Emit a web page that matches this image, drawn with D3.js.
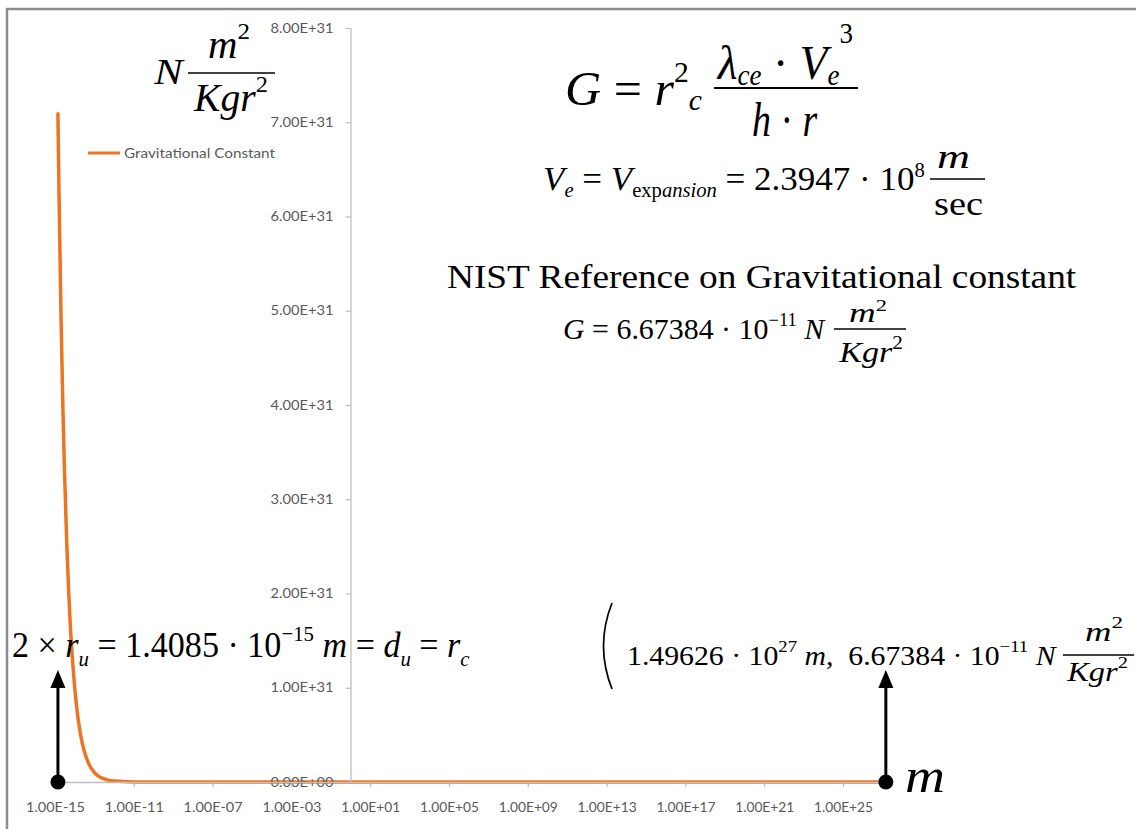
<!DOCTYPE html>
<html>
<head>
<meta charset="utf-8">
<script src="https://cdn.jsdelivr.net/npm/d3@7"></script>
<style>
  html, body { margin: 0; padding: 0; background: #fff; }
  svg { display: block; }
</style>
</head>
<body>
<script>
// ---------- data ----------
const seriesName = "Gravitational Constant";
// radius r in metres (x, log scale)
const radii = [1.4085e-15, 1.6e-15, 2e-15, 2.5e-15, 3e-15, 4e-15, 5e-15, 6e-15, 8e-15,
  1e-14, 1.5e-14, 2e-14, 3e-14, 5e-14, 1e-13, 2e-13, 5e-13, 1e-12, 1e-11, 1e-10, 1e-9,
  1e-6, 1e-3, 1, 1e3, 1e6, 1e9, 1e12, 1e15, 1e18, 1e21, 1e24, 1.49626e27];
// gravitational "constant" G (y)
const gValues = [7.09e31, 6.24e31, 4.99e31, 3.99e31, 3.33e31, 2.50e31, 2.00e31, 1.66e31, 1.25e31,
  9.99e30, 6.66e30, 4.99e30, 3.33e30, 2.00e30, 9.99e29, 4.99e29, 2.00e29, 9.99e28, 9.99e27, 9.99e26, 9.99e25,
  9.99e22, 9.99e19, 9.99e16, 9.99e13, 9.99e10, 9.99e7, 9.99e4, 99.9, 9.99e-2, 9.99e-5, 9.99e-8, 6.67384e-11];
const xTickValues = [1e-15, 1e-11, 1e-7, 1e-3, 1e1, 1e5, 1e9, 1e13, 1e17, 1e21, 1e25];
const xTickLabels = ["1.00E-15", "1.00E-11", "1.00E-07", "1.00E-03", "1.00E+01", "1.00E+05",
  "1.00E+09", "1.00E+13", "1.00E+17", "1.00E+21", "1.00E+25"];
const yTickValues = [0, 1e31, 2e31, 3e31, 4e31, 5e31, 6e31, 7e31, 8e31];
const yTickLabels = ["0.00E+00", "1.00E+31", "2.00E+31", "3.00E+31", "4.00E+31",
  "5.00E+31", "6.00E+31", "7.00E+31", "8.00E+31"];

// ---------- layout ----------
const W = 1136, H = 829;
const ORANGE = "#EC7422";
const AXIS = "#bfbfbf";
const LABEL = "#595959";
const SANS = "Lato, 'Open Sans', sans-serif";
const SERIF = "'Liberation Serif', 'Times New Roman', serif";

const svg = d3.select("body").append("svg").attr("width", W).attr("height", H);
svg.append("rect").attr("width", W).attr("height", H).attr("fill", "#fff");
// chart frame
svg.append("rect").attr("x", 7).attr("y", 9).attr("width", W + 20).attr("height", H + 20)
  .attr("fill", "none").attr("stroke", "#8c8c8c").attr("stroke-width", 2.5);

const x = d3.scaleLog().domain([1e-15, 1e27]).range([55, 55 + 42 * 19.7]);
const y = d3.scaleLinear().domain([0, 8e31]).range([782, 28]);

// y axis (crosses x at 1)
const yAxisG = svg.append("g").attr("transform", `translate(${x(1)},0)`)
  .call(d3.axisLeft(y).tickValues(yTickValues).tickSize(5).tickSizeOuter(0).tickPadding(12)
    .tickFormat((d, i) => yTickLabels[i]));
yAxisG.select(".domain").attr("stroke", AXIS).attr("stroke-width", 1.3);
yAxisG.selectAll(".tick line").attr("stroke", AXIS).attr("stroke-width", 1.3);

// x axis (at y = 0)
const xAxisG = svg.append("g").attr("transform", `translate(0,${y(0)})`)
  .call(d3.axisBottom(x).tickValues(xTickValues).tickSize(5).tickSizeOuter(0)
    .tickFormat((d, i) => xTickLabels[i]));
xAxisG.select(".domain").attr("stroke", AXIS).attr("stroke-width", 1.3);
xAxisG.selectAll(".tick line").attr("stroke", AXIS).attr("stroke-width", 1.3);

// series line
const pts = radii.map((r, i) => [r, gValues[i]]);
svg.append("path").datum(pts)
  .attr("fill", "none").attr("stroke", ORANGE).attr("stroke-width", 3.5)
  .attr("stroke-linejoin", "round").attr("stroke-linecap", "round")
  .attr("d", d3.line().x(d => x(d[0])).y(d => y(d[1])).curve(d3.curveMonotoneX));

// tick labels drawn on top of the series
function styleLabels(sel, len) {
  sel.attr("font-family", SANS).attr("font-size", 12.5).attr("fill", LABEL)
    .attr("textLength", len).attr("lengthAdjust", "spacingAndGlyphs");
}
yAxisG.raise();
styleLabels(yAxisG.selectAll(".tick text"), 63);
xAxisG.raise();
styleLabels(xAxisG.selectAll(".tick text").attr("y", 30).attr("dy", 0), 59);
yAxisG.attr("font-family", null); xAxisG.attr("font-family", null);

// legend
svg.append("line").attr("x1", 88).attr("x2", 120).attr("y1", 153).attr("y2", 153)
  .attr("stroke", ORANGE).attr("stroke-width", 3);
svg.append("text").attr("x", 124).attr("y", 157.5).text(seriesName)
  .attr("font-family", SANS).attr("font-size", 12.5).attr("fill", LABEL)
  .attr("textLength", 151).attr("lengthAdjust", "spacingAndGlyphs");

// ---------- math annotations ----------
function mathPiece(x0, x1, base, fs, segs) {
  const g = svg.append("g");
  const t = g.append("text").attr("font-family", SERIF).attr("font-size", fs)
    .attr("fill", "#000").style("white-space", "pre");
  let cur = 0;
  for (const s of segs) {
    const str = s[0], o = s[1] || {};
    const dy = o.dy || 0;
    const ts = t.append("tspan").text(str).attr("dy", dy - cur);
    cur = dy;
    if (o.i) ts.attr("font-style", "italic");
    if (o.fs) ts.attr("font-size", o.fs);
  }
  const bb = t.node().getBBox();
  const sx = (x1 - x0) / bb.width;
  g.attr("transform", `translate(${x0 - bb.x * sx},${base}) scale(${sx},1)`);
  return g;
}
function bar(x0, x1, yy, w) {
  svg.append("line").attr("x1", x0).attr("x2", x1).attr("y1", yy).attr("y2", yy)
    .attr("stroke", "#000").attr("stroke-width", w || 1.6);
}

// Unit of y axis (top-left)
mathPiece(153, 185, 84, 36, [["N", { i: 1 }]]);
mathPiece(208, 250, 58, 39, [["m", { i: 1 }], ["2", { fs: 24, dy: -19 }]]);
bar(188, 275, 73, 1.6);
mathPiece(193, 268, 111, 39, [["Kgr", { i: 1 }], ["2", { fs: 24, dy: -19 }]]);

// G = r^2_c * (lambda_ce * Ve^3)/(h*r)
mathPiece(565, 702, 105, 49, [["G", { i: 1 }], [" = "], ["r", { i: 1 }],
  ["2", { fs: 29, dy: -23 }], ["c", { i: 1, fs: 29, dy: 5 }]]);
mathPiece(716, 853, 79, 49, [["λ", { i: 1 }], ["ce", { i: 1, fs: 29, dy: 6 }], [" · "],
  ["V", { i: 1 }], ["e", { i: 1, fs: 29, dy: 6 }], ["3", { fs: 29, dy: -36 }]]);
bar(714, 858, 88, 2);
mathPiece(752, 818, 136, 49, [["h", { i: 1 }], [" · "], ["r", { i: 1 }]]);

// Ve = Vexpansion = 2.3947e8 m/sec
mathPiece(543, 925, 190, 34, [["V", { i: 1 }], ["e", { i: 1, fs: 20, dy: 7 }], [" = "],
  ["V", { i: 1 }], ["exp", { fs: 20, dy: 7 }], ["ansion", { i: 1, fs: 20, dy: 7 }],
  [" = 2.3947 · 10"], ["8", { fs: 20, dy: -13 }]]);
mathPiece(937, 970, 168, 34, [["m", { i: 1 }]]);
bar(930, 985, 179, 1.6);
mathPiece(934, 983, 215, 34, [["sec"]]);

// NIST reference
mathPiece(447, 1077, 288, 34, [["NIST Reference on Gravitational constant"]]);
mathPiece(563, 826, 339, 29, [["G", { i: 1 }], [" = 6.67384 · 10"], ["−11", { fs: 18, dy: -13 }],
  [" "], ["N", { i: 1, dy: 0 }]]);
mathPiece(849, 887, 322, 28, [["m", { i: 1 }], ["2", { fs: 17, dy: -11 }]]);
bar(834, 906, 329, 1.4);
mathPiece(838, 903, 362, 29, [["Kgr", { i: 1 }], ["2", { fs: 18, dy: -13 }]]);

// bottom-left annotation
mathPiece(12, 470, 657, 36, [["2 × "], ["r", { i: 1 }], ["u", { i: 1, fs: 22, dy: 9 }],
  [" = 1.4085 · 10", { dy: 0 }], ["−15", { fs: 22, dy: -16 }], [" "], ["m", { i: 1, dy: 0 }],
  [" = "], ["d", { i: 1 }], ["u", { i: 1, fs: 22, dy: 9 }], [" = ", { dy: 0 }],
  ["r", { i: 1 }], ["c", { i: 1, fs: 22, dy: 9 }]]);

// right annotation
svg.append("path").attr("d", "M612,603 Q595,646 612,689").attr("fill", "none")
  .attr("stroke", "#000").attr("stroke-width", 1.7);
mathPiece(627, 1058, 665, 27, [["1.49626 · 10"], ["27", { fs: 17, dy: -13 }], [" "],
  ["m", { i: 1, dy: 0 }], [",  6.67384 · 10"], ["−11", { fs: 17, dy: -13 }], [" "],
  ["N", { i: 1, dy: 0 }]]);
mathPiece(1085, 1123, 641, 27, [["m", { i: 1 }], ["2", { fs: 17, dy: -13 }]]);
bar(1063, 1134, 655, 1.4);
mathPiece(1066, 1128, 681, 27, [["Kgr", { i: 1 }], ["2", { fs: 17, dy: -13 }]]);

// x unit
mathPiece(905, 945, 792, 48, [["m", { i: 1 }]]);

// arrows with dots at the two ends of the series
function arrow(px) {
  const y0 = y(0);
  svg.append("line").attr("x1", px).attr("x2", px).attr("y1", y0).attr("y2", 686)
    .attr("stroke", "#000").attr("stroke-width", 3);
  svg.append("path").attr("d", `M${px},670 L${px - 7.5},688 L${px + 7.5},688 Z`).attr("fill", "#000");
  svg.append("circle").attr("cx", px).attr("cy", y0).attr("r", 7.5).attr("fill", "#000");
}
arrow(x(radii[0]));
arrow(x(radii[radii.length - 1]));
</script>
</body>
</html>
